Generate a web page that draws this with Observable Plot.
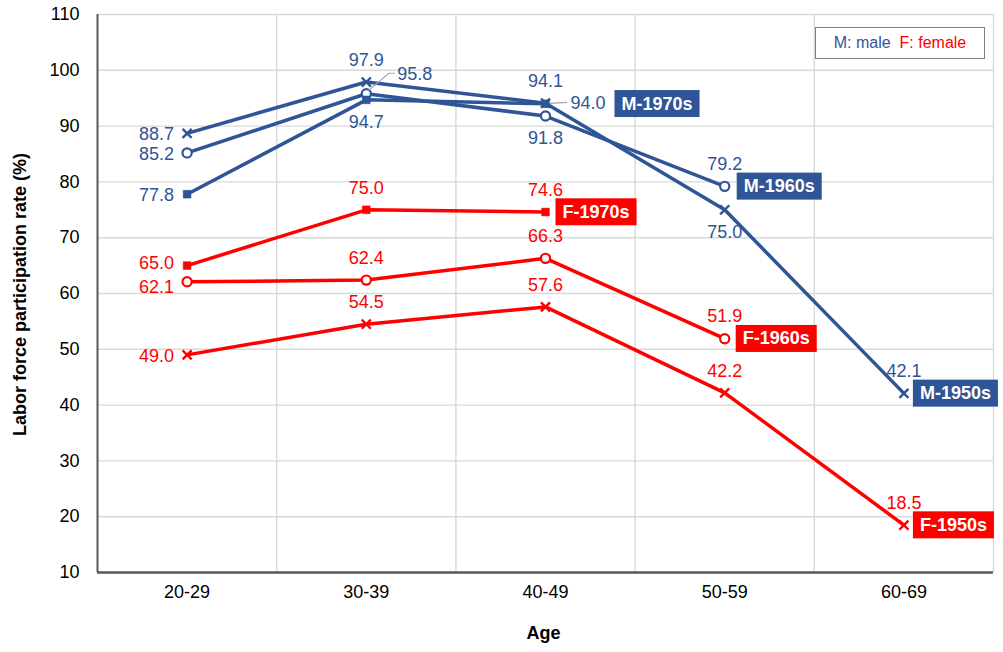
<!DOCTYPE html>
<html><head><meta charset="utf-8">
<script src="https://cdn.jsdelivr.net/npm/d3@7"></script>
<script src="https://cdn.jsdelivr.net/npm/@observablehq/plot@0.6"></script>
<style>
body{margin:0;background:#fff;font-family:"Liberation Sans",Arial,sans-serif;}
#wrap{position:relative;width:1003px;height:652px;}
#legend{position:absolute;left:815px;top:27px;width:168px;height:30px;border:1.5px solid #7f7f7f;background:#fff;font-size:16px;line-height:30px;text-align:center;box-sizing:content-box;}
</style>
</head><body>
<div id="wrap"><div id="legend"><span style="color:#2F5597">M: male</span>&nbsp; <span style="color:#ff0000">F: female</span></div></div>
<script>
const ages = ["20-29","30-39","40-49","50-59","60-69"];
const yTicks = [10,20,30,40,50,60,70,80,90,100,110];
const seriesNames = ["M-1950s","M-1960s","M-1970s","F-1950s","F-1960s","F-1970s"];
const m1950 = [88.7, 97.9, 94.1, 75.0, 42.1];
const m1960 = [85.2, 95.8, 91.8, 79.2];
const m1970 = [77.8, 94.7, 94.0];
const f1950 = [49.0, 54.5, 57.6, 42.2, 18.5];
const f1960 = [62.1, 62.4, 66.3, 51.9];
const f1970 = [65.0, 75.0, 74.6];
const seriesValues = [m1950, m1960, m1970, f1950, f1960, f1970];
const seriesSymbol = ["times","circle","square","times","circle","square"];
// label placement per point: L left, LU left-up, LD left-down, A above, B below,
// R right w/ leader, RU right-up w/ leader
const labelPlace = [
  ["L","A","A","B","A"],
  ["L","RU","B","A"],
  ["L","B","R"],
  ["L","A","A","A","A"],
  ["LD","A","A","A"],
  ["LU","A","A"]
];
const boxDx = [16, 19, 76, 16, 18, 17];

const BLUE = "#2F5597", RED = "#ff0000";
const colorOf = s => s[0] === "M" ? BLUE : RED;

const rows = [];
seriesNames.forEach((s, k) => seriesValues[k].forEach((v, i) => rows.push({
  s, k, i, v, c: colorOf(s), sym: seriesSymbol[k], place: labelPlace[k][i]
})));
const lasts = seriesNames.map((s, k) => rows.filter(r => r.k === k).slice(-1)[0]);

const fmt = d => d.v.toFixed(1);
const font = "Liberation Sans, Arial, sans-serif";
const leftDy = {L: 1, LU: -2, LD: 5};

const chart = Plot.plot({
  width: 1003, height: 652,
  marginLeft: 97, marginRight: 10, marginTop: 14, marginBottom: 80,
  style: {fontFamily: font, fontSize: "18px", color: "#000", background: "#fff", overflow: "visible"},
  x: {domain: [-0.5, ages.length - 0.5], axis: null},
  y: {domain: [10, 110], axis: null},
  color: {type: "identity"},
  marks: [
    Plot.gridY(yTicks, {stroke: "#d9d9d9", strokeOpacity: 1, strokeWidth: 1.4}),
    Plot.gridX(ages.map((d, i) => i + 0.5), {stroke: "#d9d9d9", strokeOpacity: 1, strokeWidth: 1.4}),
    Plot.axisY(yTicks, {tickSize: 0, tickPadding: 18, fontSize: 18, label: null}),
    Plot.axisX(ages.map((d, i) => i), {tickSize: 0, tickPadding: 13, fontSize: 18, tickFormat: i => ages[i], label: null}),
    Plot.ruleX([-0.5], {stroke: "#595959", strokeWidth: 2}),
    Plot.ruleY([10], {stroke: "#595959", strokeWidth: 2.5}),
    Plot.line(rows, {x: "i", y: "v", z: "s", stroke: "c", strokeWidth: 3.5}),
    Plot.dot(rows.filter(d => d.sym === "times"), {x: "i", y: "v", symbol: "times", r: 4.2, stroke: "c", strokeWidth: 2.4}),
    Plot.dot(rows.filter(d => d.sym === "circle"), {x: "i", y: "v", symbol: "circle", r: 4.6, fill: "#fff", stroke: "c", strokeWidth: 2.2}),
    Plot.dot(rows.filter(d => d.sym === "square"), {x: "i", y: "v", symbol: "square", r: 4.4, fill: "c", stroke: "c", strokeWidth: 0.5}),
    ...["L","LU","LD"].map(p => Plot.text(rows.filter(d => d.place === p), {x: "i", y: "v", text: fmt, fill: "c", textAnchor: "end", dx: -13, dy: leftDy[p], fontSize: 18})),
    Plot.text(rows.filter(d => d.place === "A"), {x: "i", y: "v", text: fmt, fill: "c", dy: -22, fontSize: 18}),
    Plot.text(rows.filter(d => d.place === "B"), {x: "i", y: "v", text: fmt, fill: "c", dy: 22, fontSize: 18}),
    Plot.text(rows.filter(d => d.place === "R"), {x: "i", y: "v", text: fmt, fill: "c", textAnchor: "start", dx: 25, dy: -1, fontSize: 18}),
    Plot.text(rows.filter(d => d.place === "RU"), {x: "i", y: "v", text: fmt, fill: "c", textAnchor: "start", dx: 31, dy: -20, fontSize: 18}),
    ...lasts.map(d => Plot.text([d], {x: "i", y: "v", text: "s", fill: "#fff", textAnchor: "start", dx: boxDx[d.k], fontSize: 18, fontWeight: "bold"})),
    Plot.text(["Labor force participation rate (%)"], {frameAnchor: "left", textAnchor: "middle", dx: -77, dy: 1, rotate: -90, fontSize: 18, fontWeight: "bold"}),
    Plot.text(["Age"], {frameAnchor: "bottom", dy: 66, dx: -2, fontSize: 18, fontWeight: "bold"})
  ]
});

document.getElementById("wrap").prepend(chart);

const svg = d3.select(chart.tagName.toLowerCase() === "svg" ? chart : chart.querySelector("svg"));
const X = chart.scale("x"), Y = chart.scale("y");

// box backgrounds behind series-name labels
svg.selectAll("text").each(function() {
  const k = seriesNames.indexOf(this.textContent);
  if (k < 0) return;
  const bb = this.getBBox();
  const r = d3.select(this.parentNode).insert("rect", () => this)
    .attr("x", bb.x - 7)
    .attr("y", bb.y - 3.5)
    .attr("width", bb.width + 14)
    .attr("height", bb.height + 7)
    .attr("fill", colorOf(seriesNames[k]));
  const tr = this.getAttribute("transform");
  if (tr) r.attr("transform", tr);
});

// leader lines
const leaders = svg.append("g").attr("stroke", "#a6a6a6").attr("stroke-width", 1.2).attr("fill", "none");
rows.filter(d => d.place === "R" || d.place === "RU").forEach(d => {
  const px = X.apply(d.i), py = Y.apply(d.v);
  const pts = d.place === "RU"
    ? [[px + 3, py - 3], [px + 23, py - 20], [px + 29, py - 20]]
    : [[px + 5, py], [px + 22, py - 1]];
  leaders.append("path").attr("d", d3.line()(pts));
});
</script>
</body></html>
